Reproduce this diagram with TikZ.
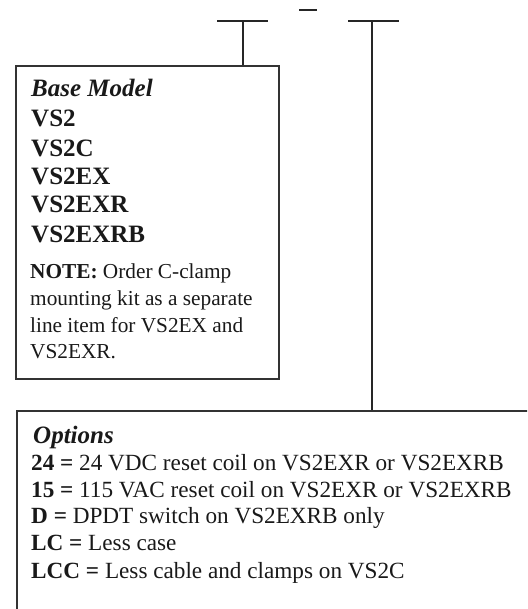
\documentclass[tikz,border=0pt]{standalone}
\usepackage{fontspec}
\setmainfont{Liberation Serif}
\begin{document}
\begin{tikzpicture}[x=1pt, y=-1pt]
\tikzset{
  frame/.style={draw=black!80, line width=1.6pt, anchor=north west},
  tee/.style={draw=black!85, line width=1.5pt},
  head/.style={anchor=base west, inner sep=0pt, text=black!90, font=\fontsize{25}{29}\selectfont\bfseries},
  body/.style={anchor=base west, inner sep=0pt, text=black!90, font=\fontsize{21.3}{27}\selectfont},
  optline/.style={anchor=base west, inner sep=0pt, text=black!90, font=\fontsize{23.2}{27}\selectfont},
}
\useasboundingbox (0,0) rectangle (527,609);
\clip (0,0) rectangle (527,609);
% the two boxes
\node[frame, minimum width=263pt, minimum height=313pt] (basebox) at (15,65) {};
\node[frame, minimum width=600pt, minimum height=300pt] (optbox) at (16,410) {};
% tees above the boxes
\coordinate (teeA) at (243,21);
\coordinate (teeB) at (372,21);
\coordinate (dash) at (308,10);
\draw[tee] ([xshift=-26pt]teeA) -- ([xshift=25pt]teeA);
\draw[tee] (teeA) -- (teeA |- basebox.north);
\draw[tee] ([xshift=-24pt]teeB) -- ([xshift=27pt]teeB);
\draw[tee] (teeB) -- (teeB |- optbox.north);
\draw[tee, line width=2pt] ([xshift=-9pt]dash) -- ([xshift=9pt]dash);
% base model
\node[head, font=\fontsize{25}{29}\selectfont\bfseries\itshape] (basetitle) at (31,97) {Base Model};
\node[head] (vsa) at (31,127) {VS2};
\node[head] (vsb) at (31,157) {VS2C};
\node[head] (vsc) at (31,185) {VS2EX};
\node[head] (vsd) at (31,213) {VS2EXR};
\node[head] (vse) at (31,243) {VS2EXRB};
\node[body] (notea) at (30,278) {\textbf{NOTE:} Order C-clamp};
\node[body] (noteb) at (30,305) {mounting kit as a separate};
\node[body] (notec) at (30,332) {line item for VS2EX and};
\node[body] (noted) at (30,358) {VS2EXR.};
% options
\node[head, font=\fontsize{25}{29}\selectfont\bfseries\itshape] (opttitle) at (33,443) {Options};
\node[optline] (opta) at (31,470) {\textbf{24 =} 24 VDC reset coil on VS2EXR or VS2EXRB};
\node[optline] (optb) at (31,497) {\textbf{15 =} 115 VAC reset coil on VS2EXR or VS2EXRB};
\node[optline] (optc) at (31,523) {\textbf{D =} DPDT switch on VS2EXRB only};
\node[optline] (optd) at (31,550) {\textbf{LC =} Less case};
\node[optline] (opte) at (31,578) {\textbf{LCC =} Less cable and clamps on VS2C};
\end{tikzpicture}
\end{document}
